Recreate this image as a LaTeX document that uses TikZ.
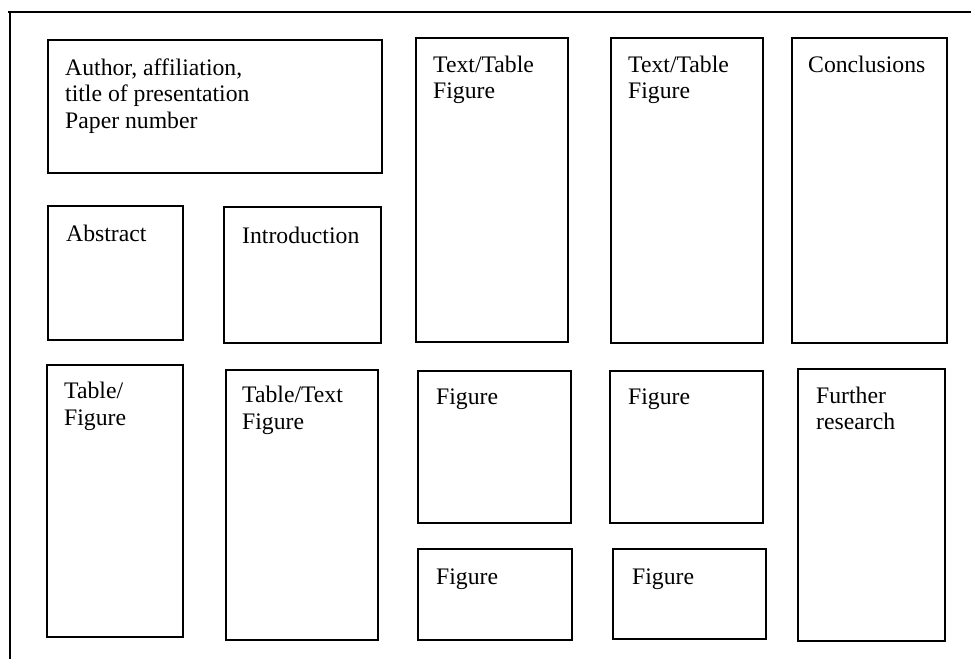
\documentclass[tikz,border=0pt]{standalone}
\usepackage{fontspec}
\setmainfont{Liberation Serif}
\begin{document}
\begin{tikzpicture}[x=1pt,y=-1pt,
  panel/.style={draw, line width=1.6pt, inner sep=0pt, outer sep=0pt, anchor=north west},
  lbl/.style={anchor=base west, inner sep=0pt, font=\fontsize{23.7}{26.5}\selectfont}]
\useasboundingbox (0,0) rectangle (971,659);
% page frame (top and left edges only)
\draw[line width=1.5pt] (8,12) -- (971,12);
\draw[line width=1.5pt] (10,12) -- (10,659);
% panels
\node[panel, minimum width=334pt, minimum height=133pt] (author) at (48,40) {};
\node[panel, minimum width=135pt, minimum height=134pt] (abstract) at (48,206) {};
\node[panel, minimum width=157pt, minimum height=136pt] (intro) at (224,207) {};
\node[panel, minimum width=136pt, minimum height=272pt] (tabfig) at (47,365) {};
\node[panel, minimum width=152pt, minimum height=270pt] (tabtext) at (226,370) {};
\node[panel, minimum width=152pt, minimum height=304pt] (ttA) at (416,38) {};
\node[panel, minimum width=152pt, minimum height=305pt] (ttB) at (611,38) {};
\node[panel, minimum width=155pt, minimum height=305pt] (concl) at (792,38) {};
\node[panel, minimum width=153pt, minimum height=152pt] (figA) at (418,371) {};
\node[panel, minimum width=153pt, minimum height=152pt] (figB) at (610,371) {};
\node[panel, minimum width=154pt, minimum height=91pt] (figC) at (418,549) {};
\node[panel, minimum width=153pt, minimum height=90pt] (figD) at (613,549) {};
\node[panel, minimum width=147pt, minimum height=272pt] (further) at (798,369) {};
% labels
\node[lbl] (t1) at (65,75) {Author, affiliation,};
\node[lbl] (t2) at (65,101.5) {title of presentation};
\node[lbl] (t3) at (65,128) {Paper number};
\node[lbl] (t4) at (66,241) {Abstract};
\node[lbl] (t5) at (242,243) {Introduction};
\node[lbl] (t6) at (64,398) {Table/};
\node[lbl] (t7) at (64,425) {Figure};
\node[lbl] (t8) at (242,402) {Table/Text};
\node[lbl] (t9) at (242,429) {Figure};
\node[lbl] (t10) at (433,72) {Text/Table};
\node[lbl] (t11) at (433,98) {Figure};
\node[lbl] (t12) at (628,72) {Text/Table};
\node[lbl] (t13) at (628,98) {Figure};
\node[lbl] (t14) at (808,72) {Conclusions};
\node[lbl] (t15) at (436,404) {Figure};
\node[lbl] (t16) at (628,404) {Figure};
\node[lbl] (t17) at (436,584) {Figure};
\node[lbl] (t18) at (632,584) {Figure};
\node[lbl] (t19) at (816,403) {Further};
\node[lbl] (t20) at (816,429) {research};
\end{tikzpicture}
\end{document}
